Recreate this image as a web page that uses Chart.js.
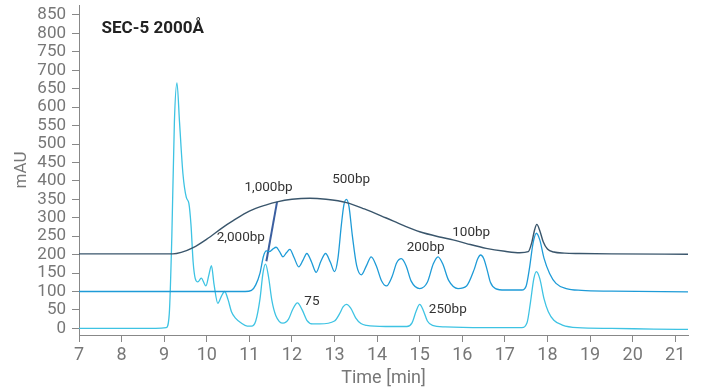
<!DOCTYPE html>
<html>
<head>
<meta charset="utf-8">
<script src="https://cdn.jsdelivr.net/npm/chart.js@4.4.1/dist/chart.umd.min.js"></script>
<style>
  html, body { margin: 0; padding: 0; background: #fff; }
  #wrap { width: 702px; height: 392px; }
</style>
</head>
<body>
<div id="wrap"><canvas id="sec-chart" width="702" height="392"></canvas></div>
<script>
// --- Chromatogram traces: [time (min), absorbance (mAU)] ---
const dnaLadderTrace = [
    [7.0, 202], [9.0, 202], [9.2, 202], [9.4, 206], [9.68, 219], [10.0, 242],
    [10.38, 274], [10.62, 292], [11.0, 318], [11.4, 335], [11.65, 343],
    [12.0, 350], [12.42, 353], [12.8, 350], [13.28, 341], [13.7, 324],
    [14.2, 300], [14.6, 280], [15.0, 262], [15.5, 247], [15.78, 240],
    [16.1, 230], [16.56, 217], [17.0, 209], [17.35, 205], [17.55, 208],
    [17.63, 232], [17.7, 268], [17.75, 282], [17.82, 265], [17.9, 235],
    [18.0, 215], [18.15, 207], [18.4, 204], [18.75, 203], [19.5, 202], [21.3, 201]
];

const fragmentTrace = [
    [7.0, 100], [10.9, 100], [11.05, 103], [11.15, 118], [11.25, 150],
    [11.33, 195], [11.40, 210], [11.47, 208], [11.55, 215], [11.63, 220],
    [11.71, 208], [11.79, 194], [11.87, 205], [11.95, 214], [12.05, 192],
    [12.16, 167], [12.26, 185], [12.35, 203], [12.46, 180], [12.57, 152],
    [12.68, 182], [12.79, 203], [12.9, 180], [13.0, 154], [13.08, 190],
    [13.16, 280], [13.22, 335], [13.28, 350], [13.34, 330], [13.42, 250],
    [13.52, 170], [13.63, 145], [13.75, 170], [13.86, 194], [13.98, 170],
    [14.1, 130], [14.22, 115], [14.35, 140], [14.46, 178], [14.57, 189],
    [14.68, 170], [14.8, 128], [15.0, 108], [15.18, 125], [15.32, 175],
    [15.43, 194], [15.54, 175], [15.68, 130], [15.9, 108], [16.1, 115],
    [16.28, 160], [16.36, 188], [16.43, 199], [16.5, 190], [16.58, 160],
    [16.66, 125], [16.78, 108], [17.0, 104], [17.4, 104], [17.5, 115],
    [17.58, 165], [17.66, 230], [17.74, 258], [17.82, 240], [17.92, 190],
    [18.05, 149], [18.2, 122], [18.44, 108], [18.8, 103], [19.5, 101], [21.3, 99]
];

const sampleTrace = [
    [7.0, 0], [8.8, 0], [9.05, 2], [9.12, 40], [9.18, 250], [9.24, 560],
    [9.30, 666], [9.36, 560], [9.44, 420], [9.52, 355], [9.58, 339],
    [9.63, 280], [9.68, 180], [9.73, 135], [9.79, 126], [9.87, 136],
    [9.98, 115], [10.05, 145], [10.11, 170], [10.17, 120], [10.26, 68],
    [10.34, 86], [10.42, 100], [10.5, 78], [10.58, 45], [10.68, 27],
    [10.8, 15], [10.95, 6], [11.05, 6], [11.15, 20], [11.25, 80],
    [11.32, 150], [11.38, 174], [11.45, 140], [11.53, 75], [11.62, 35],
    [11.79, 14], [11.92, 25], [12.02, 52], [12.13, 69], [12.24, 50],
    [12.35, 22], [12.49, 12], [12.65, 12], [13.0, 20], [13.12, 40],
    [13.2, 58], [13.28, 65], [13.38, 55], [13.5, 28], [13.62, 13],
    [13.75, 8], [14.2, 5], [14.7, 5], [14.82, 15], [14.92, 48], [15.0, 65],
    [15.08, 50], [15.18, 20], [15.3, 8], [15.6, 4], [16.5, 2], [17.4, 2],
    [17.52, 15], [17.6, 70], [17.68, 135], [17.74, 154], [17.82, 135],
    [17.92, 80], [18.02, 45], [18.15, 22], [18.35, 9], [18.7, 2],
    [19.5, 0], [20.5, -2], [21.3, -3]
];

// leader from the 1,000bp band down to the fragment peak
const leaderLine = [[11.65, 343], [11.40, 182]];

// --- Axis ticks ---
const timeTicks = [7, 8, 9, 10, 11, 12, 13, 14, 15, 16, 17, 18, 19, 20, 21];
const mauTicks = [0, 50, 100, 150, 200, 250, 300, 350, 400, 450, 500, 550, 600, 650, 700, 750, 800, 850];

// --- Peak labels: [text, time, mAU] ---
const peakLabels = [
    ['1,000bp', 11.45, 381],
    ['2,000bp', 10.80, 245],
    ['500bp', 13.39, 404],
    ['200bp', 15.14, 218],
    ['100bp', 16.21, 259],
    ['75', 12.47, 72],
    ['250bp', 15.66, 50]
];
const chartTitle = 'SEC-5 2000Å';

const toPoints = arr => arr.map(p => ({ x: p[0], y: p[1] }));

const labelPlugin = {
    id: 'peakLabels',
    afterDatasetsDraw(chart) {
        const { ctx, scales: { x, y } } = chart;
        ctx.save();
        ctx.fillStyle = '#333';
        ctx.font = '13.5px Roboto';
        ctx.textAlign = 'center';
        ctx.textBaseline = 'middle';
        peakLabels.forEach(([text, t, v]) => {
            ctx.fillText(text, x.getPixelForValue(t), y.getPixelForValue(v));
        });
        // panel title
        ctx.fillStyle = '#222';
        ctx.font = 'bold 17px Roboto';
        ctx.textAlign = 'left';
        ctx.fillText(chartTitle, x.getPixelForValue(7.53), y.getPixelForValue(812));
        ctx.restore();
    }
};

const lineSet = (data, color, width) => ({
    data: toPoints(data),
    borderColor: color,
    borderWidth: width,
    pointRadius: 0,
    fill: false,
    cubicInterpolationMode: 'monotone'
});

new Chart(document.getElementById('sec-chart'), {
    type: 'line',
    data: {
        datasets: [
            lineSet(dnaLadderTrace, '#3a566c', 1.4),
            lineSet(fragmentTrace, '#1e9bd7', 1.3),
            lineSet(sampleTrace, '#3ec3e3', 1.3),
            { ...lineSet(leaderLine, '#3b5fa0', 2), cubicInterpolationMode: 'default', tension: 0 }
        ]
    },
    options: {
        responsive: false,
        animation: false,
        events: [],
        layout: { padding: { top: 5, right: 14, left: 0, bottom: 0 } },
        plugins: { legend: { display: false }, tooltip: { enabled: false } },
        scales: {
            x: {
                type: 'linear',
                min: 7,
                max: 21.3,
                afterBuildTicks: s => { s.ticks = timeTicks.map(v => ({ value: v })); },
                afterFit: s => { s.height = 57; s.paddingLeft = 0; s.paddingRight = 0; },
                grid: { display: true, drawOnChartArea: false, drawTicks: true, tickLength: 7, color: '#888' },
                border: { color: '#888', width: 1 },
                ticks: { font: { family: 'Roboto', size: 18 }, color: '#777', padding: 3, maxRotation: 0, autoSkip: false },
                title: { display: true, text: 'Time [min]', font: { family: 'Roboto', size: 18 }, color: '#777', padding: { top: 0, bottom: 3 } }
            },
            y: {
                type: 'linear',
                min: -18,
                max: 877,
                afterBuildTicks: s => { s.ticks = mauTicks.map(v => ({ value: v })); },
                afterFit: s => { s.width = 79; s.paddingTop = 0; s.paddingBottom = 0; },
                grid: { display: true, drawOnChartArea: false, drawTicks: true, tickLength: 7, color: '#888' },
                border: { color: '#888', width: 1 },
                ticks: { font: { family: 'Roboto', size: 17 }, color: '#777', padding: 6, autoSkip: false },
                title: { display: true, text: 'mAU', font: { family: 'Roboto', size: 17 }, color: '#777', padding: { top: 12, bottom: 0 } }
            }
        }
    },
    plugins: [labelPlugin]
});
</script>
</body>
</html>
